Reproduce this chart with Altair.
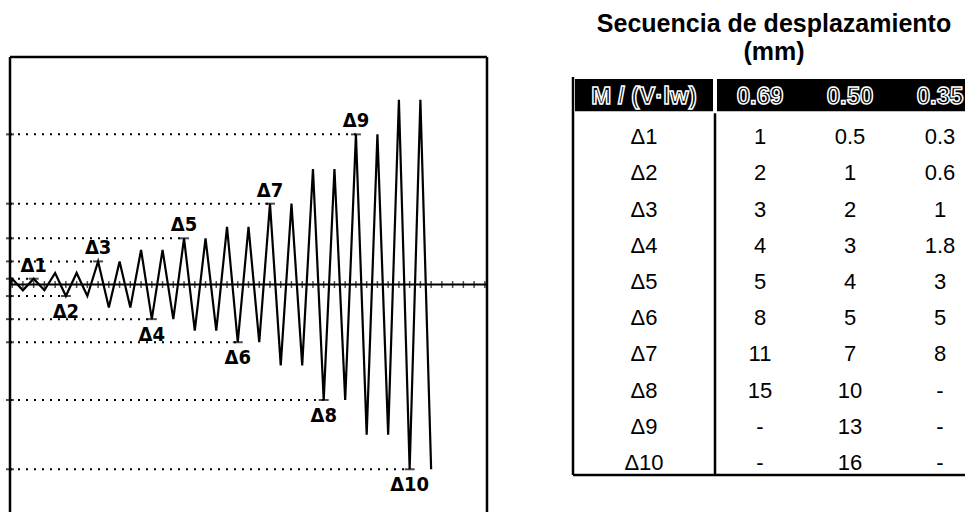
import altair as alt
import pandas as pd
import numpy as np

# ---------------- data ----------------
row_labels = ["Δ1", "Δ2", "Δ3", "Δ4", "Δ5", "Δ6", "Δ7", "Δ8", "Δ9", "Δ10"]
ratio_header = "M / (V·lw)"
col_headers = ["0.69", "0.50", "0.35"]
d_069 = [1, 2, 3, 4, 5, 8, 11, 15, None, None]
d_050 = [0.5, 1, 2, 3, 4, 5, 7, 10, 13, 16]
d_035 = [0.3, 0.6, 1, 1.8, 3, 5, 8, None, None, None]
title_lines = ["Secuencia de desplazamiento", "(mm)"]

# displacement history drawn on the left (two cycles per level, M/(V·lw)=0.50)
cycle_peaks = [0.5, 0.5, 1, 1, 2, 2, 3, 3, 4, 4, 5, 5, 7, 7, 10, 10, 13, 13, 16, 16]
label_t = [1, 2.5, 4, 6.5, 8, 10.5, 12, 14.5, 16, 18.5]      # cycle time where each Δ is marked
label_sign = [1, -1, 1, -1, 1, -1, 1, -1, 1, -1]

# ---------------- scales ----------------
T0, T1 = -0.1, 22.1
Y0, Y1 = -19.7, 19.7
X_L = alt.Scale(domain=[T0, T1], range=[10, 487])
Y_L = alt.Scale(domain=[Y0, Y1], range=[512, 57])
X_T = alt.Scale(domain=[0, 1, 4], range=[573, 715, 985])
Y_T = alt.Scale(domain=[0, 11], range=[77, 475])

FONT = "Liberation Sans, Arial, sans-serif"
NARROW = "Liberation Sans Narrow, DejaVu Sans Condensed, Liberation Sans, sans-serif"

def xl(f):
    return alt.X(f, type="quantitative", scale=X_L, axis=None)

def yl(f):
    return alt.Y(f, type="quantitative", scale=Y_L, axis=None)

def xt(f):
    return alt.X(f, type="quantitative", scale=X_T, axis=None)

def yt(f):
    return alt.Y(f, type="quantitative", scale=Y_T, axis=None)

# ---------------- left plot ----------------
sig_t, sig_v = [T0], [0.0]
for k, p in enumerate(cycle_peaks):
    sig_t += [k, k + 0.5]
    sig_v += [p, -p]
sig = pd.DataFrame({"t": sig_t, "v": sig_v, "i": range(len(sig_t))})

marks = pd.DataFrame({
    "label": row_labels,
    "t": label_t,
    "v": [s * l for s, l in zip(label_sign, d_050)],
    "sign": label_sign,
    "t0": T0,
})

dotted = alt.Chart(marks).mark_rule(color="black", strokeWidth=2, strokeDash=[2, 6]).encode(
    x=xl("t0"), x2="t", y=yl("v"))

left_ticks = alt.Chart(marks).mark_tick(orient="horizontal", color="black", size=8, thickness=2).encode(
    x=xl("t0"), y=yl("v"))

zero = alt.Chart(pd.DataFrame({"a": [T0], "b": [T1], "v": [0]})).mark_rule(
    color="black", strokeWidth=2.2).encode(x=xl("a"), x2="b", y=yl("v"))

ticks = alt.Chart(pd.DataFrame({"t": np.arange(0, 22.01, 0.5), "v": 0})).mark_tick(
    orient="vertical", color="black", size=7, thickness=1.5).encode(x=xl("t"), y=yl("v"))

signal = alt.Chart(sig).mark_line(color="black", strokeWidth=2.2, strokeJoin="miter").encode(
    x=xl("t"), y=yl("v"), order="i:Q")

bars = alt.Chart(marks).mark_tick(orient="horizontal", color="black", size=10, thickness=2).encode(
    x=xl("t"), y=yl("v"))

lab_up = alt.Chart(marks).transform_filter("datum.sign > 0").mark_text(
    font=NARROW, fontSize=20, fontWeight="bold", color="black", baseline="middle", dy=-13).encode(
    x=xl("t"), y=yl("v"), text="label:N")

lab_dn = alt.Chart(marks).transform_filter("datum.sign < 0").mark_text(
    font=NARROW, fontSize=20, fontWeight="bold", color="black", baseline="middle", dy=16).encode(
    x=xl("t"), y=yl("v"), text="label:N")

frame_df = pd.DataFrame({"a": [T0, T0, T1], "b": [T0, T1, T1], "c": [Y0, Y1, Y0], "d": [Y1, Y1, Y1]})
frame = alt.Chart(frame_df).mark_rule(color="black", strokeWidth=2.5).encode(
    x=xl("a"), x2="b", y=yl("c"), y2="d")

# ---------------- table ----------------
def fmt(v):
    return "-" if v is None else "{:g}".format(v)

hdr_rects = pd.DataFrame({"c0": [0, 1], "c1": [1, 4], "r0": [0, 0], "r1": [1, 1]})
header_bg = alt.Chart(hdr_rects).mark_rect(color="black", stroke="white", strokeWidth=4).encode(
    x=xt("c0"), x2="c1", y=yt("r0"), y2="r1")

hdr_text = pd.DataFrame({"c": [0.5, 1.5, 2.5, 3.5], "r": 0.5, "txt": [ratio_header] + col_headers})
header_txt = alt.Chart(hdr_text).mark_text(
    font=FONT, fontSize=24, fontWeight="bold", color="black", stroke="white", strokeWidth=1.5,
    baseline="middle", dy=2).encode(x=xt("c"), y=yt("r"), text="txt:N")

cells = []
for i, lab in enumerate(row_labels):
    cells.append({"c": 0.5, "r": i + 1.5, "txt": lab})
    for j, col in enumerate([d_069, d_050, d_035]):
        cells.append({"c": j + 1.5, "r": i + 1.5, "txt": fmt(col[i])})
body = alt.Chart(pd.DataFrame(cells)).mark_text(
    font=FONT, fontSize=22, color="black", baseline="middle", dy=6).encode(
    x=xt("c"), y=yt("r"), text="txt:N")

borders_df = pd.DataFrame({"a": [0, 1, 0], "b": [0, 1, 4], "c": [0, 1, 11], "d": [11, 11, 11]})
borders = alt.Chart(borders_df).mark_rule(color="black", strokeWidth=2.5).encode(
    x=xt("a"), x2="b", y=yt("c"), y2="d")

title = alt.Chart(pd.DataFrame({"k": [0]})).mark_text(
    font=FONT, fontSize=25, fontWeight="bold", color="black", align="center",
    baseline="alphabetic", lineHeight=28).encode(
    x=alt.value(774), y=alt.value(32), text=alt.value(title_lines))

chart = alt.layer(
    dotted, left_ticks, zero, ticks, signal, bars, lab_up, lab_dn, frame,
    header_bg, header_txt, body, borders, title,
).resolve_scale(x="independent", y="independent").properties(
    width=965, height=512, autosize="none", padding=0
).configure_view(stroke=None)

chart.save("out.html", embed_options={"renderer": "svg", "actions": False})
